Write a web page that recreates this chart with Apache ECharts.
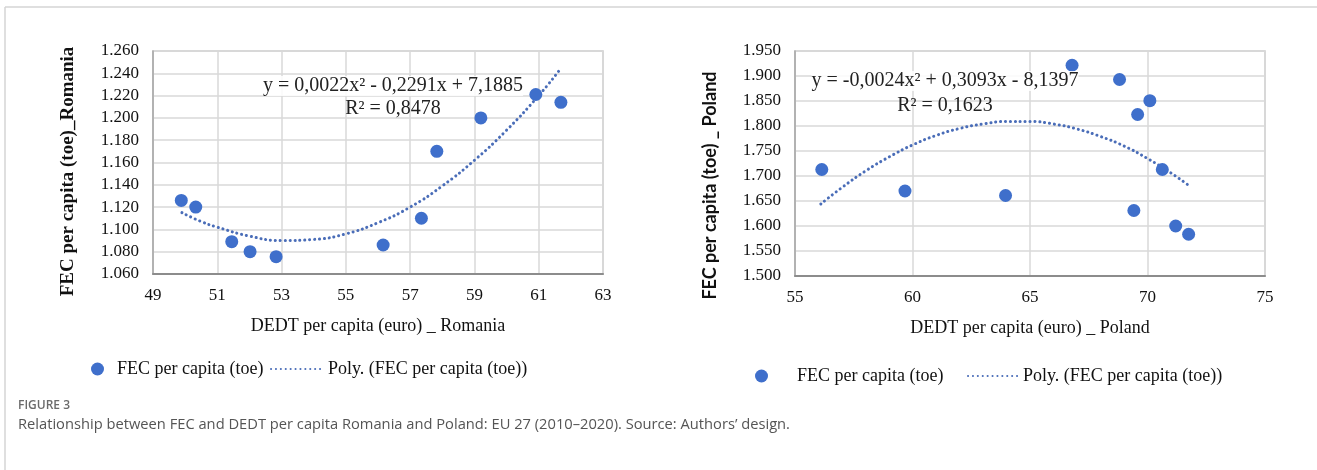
<!DOCTYPE html>
<html>
<head>
<meta charset="utf-8">
<script src="https://cdn.jsdelivr.net/npm/echarts@6/dist/echarts.min.js"></script>
<style>
  html, body { margin: 0; padding: 0; background: #ffffff; }
  #chart { width: 1317px; height: 470px; }
</style>
</head>
<body>
<div id="chart"></div>
<script>
// ---- Data ----
const roX = [49.88, 50.33, 51.45, 52.02, 52.83, 56.16, 57.35, 57.83, 59.20, 60.91, 61.69];
const roY = [1.126, 1.120, 1.089, 1.080, 1.0755, 1.086, 1.110, 1.170, 1.200, 1.221, 1.214];
const roTrendX = [49.9, 50.5, 51, 52, 53, 54, 55, 56, 57, 58, 59, 60, 61, 61.65];
const roTrendY = [1.115, 1.107, 1.102, 1.094, 1.090, 1.091, 1.096, 1.106, 1.120, 1.139, 1.162, 1.189, 1.220, 1.243];

const plX = [56.14, 59.68, 63.96, 66.79, 68.81, 70.10, 69.58, 70.63, 69.42, 71.20, 71.75];
const plY = [1.713, 1.670, 1.661, 1.9215, 1.893, 1.8506, 1.823, 1.713, 1.631, 1.600, 1.5835];
const plTrendX = [56.1, 57, 58, 59, 60, 61, 62, 63, 64, 65, 66, 67, 68, 69, 70, 71, 71.7];
const plTrendY = [1.644, 1.677, 1.710, 1.738, 1.762, 1.781, 1.795, 1.804, 1.809, 1.809, 1.804, 1.794, 1.779, 1.760, 1.735, 1.706, 1.683];

const seriesNames = ['FEC per capita (toe)', 'Poly. (FEC per capita (toe))'];
const roXTitle = 'DEDT per capita (euro) _ Romania';
const roYTitle = 'FEC per capita (toe)_Romania';
const plXTitle = 'DEDT per capita (euro) _ Poland';
const plYTitle = 'FEC per capita (toe) _ Poland';
const roEq = 'y = 0,0022x² - 0,2291x + 7,1885';
const roR2 = 'R² = 0,8478';
const plEq = 'y = -0,0024x² + 0,3093x - 8,1397';
const plR2 = 'R² = 0,1623';
const figLabel = 'FIGURE 3';
const caption = 'Relationship between FEC and DEDT per capita Romania and Poland: EU 27 (2010\u20132020). Source: Authors\u2019 design.';

const zip = (a, b) => a.map((v, i) => [v, b[i]]);

const BLUE = '#3f6fcb';
const TREND = '#4a6db8';
const SERIF = '"Liberation Serif", "DejaVu Serif", serif';
const GRID_LINE = '#d9d9d9';

function xAxisCfg(gridIndex, min, max, interval, name) {
  return {
    type: 'value', gridIndex, min, max, interval,
    name, nameLocation: 'middle', nameGap: 43,
    nameTextStyle: { fontFamily: SERIF, fontSize: 18, color: '#111' },
    axisLine: { show: true, lineStyle: { color: '#8c8c8c', width: 2 } },
    axisTick: { show: false },
    axisLabel: { fontFamily: SERIF, fontSize: 17, color: '#111', margin: 13 },
    splitLine: { show: true, lineStyle: { color: GRID_LINE, width: 1.5 } }
  };
}
function yAxisCfg(gridIndex, min, max, interval, name, nameStyle, gap) {
  return {
    type: 'value', gridIndex, min, max, interval,
    name, nameLocation: 'middle', nameGap: gap,
    nameTextStyle: nameStyle,
    axisLine: { show: true, lineStyle: { color: '#a6a6a6', width: 1.5 } },
    axisTick: { show: false },
    axisLabel: { fontFamily: SERIF, fontSize: 17, color: '#111', margin: 14,
                 formatter: v => v.toFixed(3) },
    splitLine: { show: true, lineStyle: { color: GRID_LINE, width: 1.5 } }
  };
}

const chart = echarts.init(document.getElementById('chart'), null, { renderer: 'canvas' });

const legendText = { fontFamily: SERIF, fontSize: 18, color: '#111' };

const option = {
  backgroundColor: '#ffffff',
  animation: false,
  grid: [
    { left: 153, top: 51, width: 450, height: 223, show: true, borderColor: '#c8c8c8', borderWidth: 1.5, containLabel: false },
    { left: 795, top: 51, width: 470, height: 225, show: true, borderColor: '#c8c8c8', borderWidth: 1.5, containLabel: false }
  ],
  xAxis: [
    xAxisCfg(0, 49, 63, 2, roXTitle),
    xAxisCfg(1, 55, 75, 5, plXTitle)
  ],
  yAxis: [
    yAxisCfg(0, 1.06, 1.26, 0.02, roYTitle,
      { fontFamily: SERIF, fontSize: 19, fontWeight: 'bold', color: '#111',
        padding: [0, 18, 0, 0] }, 75),
    yAxisCfg(1, 1.5, 1.95, 0.05, plYTitle,
      { fontFamily: 'Lato, "Liberation Sans", sans-serif', fontSize: 18, fontWeight: 'bold', color: '#111',
        padding: [0, 44, 0, 0] }, 76)
  ],
  legend: [
    { data: [seriesNames[0]], left: 86, top: 355, itemWidth: 13, itemHeight: 13, itemGap: 0,
      textStyle: Object.assign({}, legendText, { padding: [0, 0, 0, 8] }), selectedMode: false,
      itemStyle: { opacity: 1 } },
    { data: [seriesNames[1]], left: 265, top: 355, itemWidth: 52, itemHeight: 13, itemGap: 0,
      textStyle: legendText, selectedMode: false, itemStyle: { opacity: 0 } },
    { data: [seriesNames[0]], left: 750, top: 362, itemWidth: 13, itemHeight: 13, itemGap: 0,
      textStyle: Object.assign({}, legendText, { padding: [0, 0, 0, 24] }), selectedMode: false,
      itemStyle: { opacity: 1 } },
    { data: [seriesNames[1]], left: 962, top: 362, itemWidth: 50, itemHeight: 13, itemGap: 0,
      textStyle: legendText, selectedMode: false, itemStyle: { opacity: 0 } }
  ],
  series: [
    { name: seriesNames[0], type: 'scatter', xAxisIndex: 0, yAxisIndex: 0,
      data: zip(roX, roY), symbolSize: 13, itemStyle: { color: BLUE, opacity: 1 }, z: 3 },
    { name: seriesNames[1], type: 'line', xAxisIndex: 0, yAxisIndex: 0,
      data: zip(roTrendX, roTrendY), smooth: true, showSymbol: false, symbol: 'none',
      itemStyle: { color: TREND },
      lineStyle: { color: TREND, width: 3, type: [0.1, 4.8], cap: 'round' }, z: 2 },
    { name: seriesNames[0], type: 'scatter', xAxisIndex: 1, yAxisIndex: 1,
      data: zip(plX, plY), symbolSize: 13, itemStyle: { color: BLUE, opacity: 1 }, z: 3 },
    { name: seriesNames[1], type: 'line', xAxisIndex: 1, yAxisIndex: 1,
      data: zip(plTrendX, plTrendY), smooth: true, showSymbol: false, symbol: 'none',
      itemStyle: { color: TREND },
      lineStyle: { color: TREND, width: 3, type: [0.1, 4.8], cap: 'round' }, z: 2 }
  ],
  graphic: [
    // frame lines
    { type: 'line', shape: { x1: 5, y1: 7, x2: 1317, y2: 7 }, style: { stroke: '#d4d4d4', lineWidth: 1.5 }, silent: true },
    { type: 'line', shape: { x1: 5, y1: 7, x2: 5, y2: 470 }, style: { stroke: '#d4d4d4', lineWidth: 1.5 }, silent: true },
    // trendline equations
    { type: 'text', x: 393, y: 76, z: 10,
      style: { text: roEq, font: '20px ' + SERIF, fill: '#222', textAlign: 'center',
               backgroundColor: 'rgba(255,255,255,0.85)' } },
    { type: 'text', x: 393, y: 99, z: 10,
      style: { text: roR2, font: '20px ' + SERIF, fill: '#222', textAlign: 'center' } },
    { type: 'text', x: 945, y: 71, z: 10,
      style: { text: plEq, font: '20px ' + SERIF, fill: '#222', textAlign: 'center',
               backgroundColor: 'rgba(255,255,255,0.85)' } },
    { type: 'text', x: 945, y: 96, z: 10,
      style: { text: plR2, font: '20px ' + SERIF, fill: '#222', textAlign: 'center' } },
    // caption
    { type: 'text', left: 18, top: 400,
      style: { text: figLabel, font: '600 12px "Open Sans", sans-serif', fill: '#6b6b6b' } },
    { type: 'text', left: 18, top: 417,
      style: { text: caption, font: '14.7px "Open Sans", sans-serif', fill: '#555555' } }
  ]
};

chart.setOption(option);
</script>
</body>
</html>
